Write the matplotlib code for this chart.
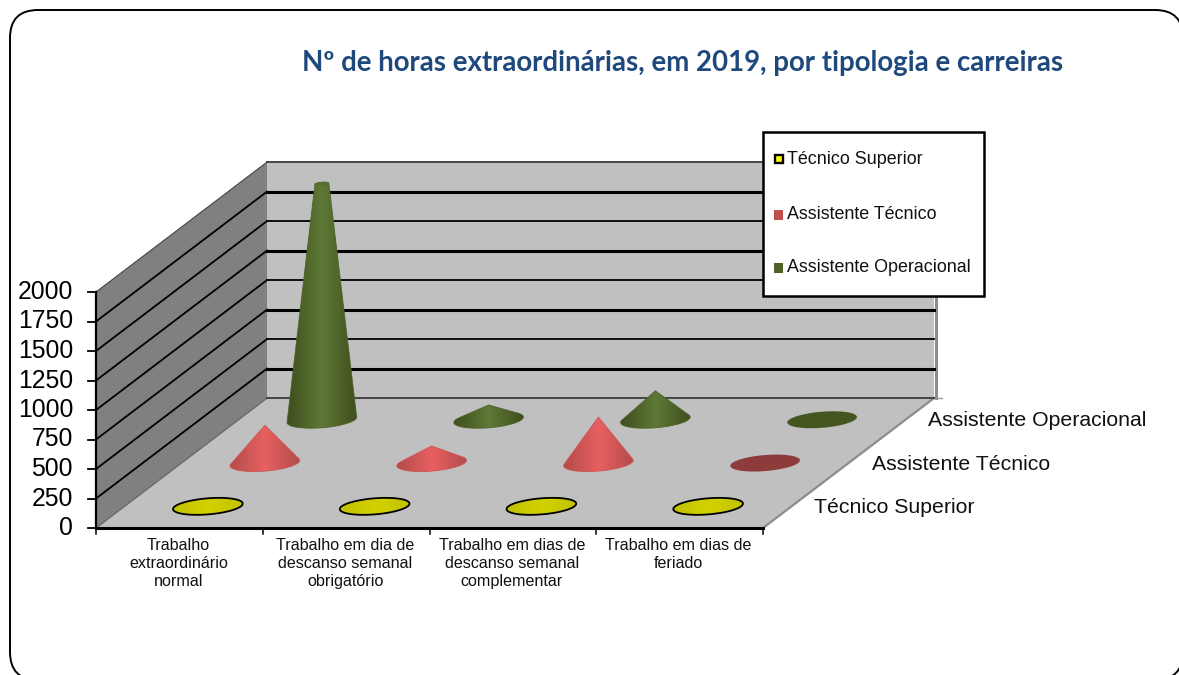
"""
Cone chart of overtime hours by type and career, drawn by hand on a pixel-sized axes
"""
import numpy as np
import matplotlib

matplotlib.use("Agg")
import matplotlib.pyplot as plt
from matplotlib.colors import LinearSegmentedColormap, to_rgb
from matplotlib.patches import FancyBboxPatch, Polygon, Rectangle

plt.rcParams["font.family"] = ["Liberation Sans", "DejaVu Sans"]

title = "Nº de horas extraordinárias, em 2019, por tipologia e carreiras"
categories = [
    "Trabalho\nextraordinário\nnormal",
    "Trabalho em dia de\ndescanso semanal\nobrigatório",
    "Trabalho em dias de\ndescanso semanal\ncomplementar",
    "Trabalho em dias de\nferiado",
]
series_names = ["Técnico Superior", "Assistente Técnico", "Assistente Operacional"]
tecnico_superior = [0, 0, 0, 0]
assistente_tecnico = [320, 145, 390, 0]
assistente_operacional = [2500, 125, 245, 0]
y_ticks = [0, 250, 500, 750, 1000, 1250, 1500, 1750, 2000]

# edge colour, middle colour, colour when the value is zero
series_colors = [
    ("#c2c200", "#d2d200", "#c8c800"),
    ("#b44c4c", "#e86060", "#8e3b3b"),
    ("#3f4e1e", "#5e7a36", "#44561f"),
]
legend_colors = ["#ffff00", "#c0504d", "#4f6228"]

# 3d box in pixels
X0, Y0 = 96, 528
CAT_W = 166.75
DEPTH_X, DEPTH_Y = 57, 43.3
PX_PER_UNIT = 236 / 2000
Y_MAX = y_ticks[-1]
N_CAT = len(categories)
N_SER = len(series_names)
RADIUS_X, RADIUS_DEPTH = 33, 0.196


def project(cat, depth, value=0):
    return (
        X0 + cat * CAT_W + depth * DEPTH_X,
        Y0 - depth * DEPTH_Y - value * PX_PER_UNIT,
    )


def circle(cat, depth, value=0, scale=1.0):
    # circle lying on the floor plane, sheared by the depth axis
    t = np.linspace(0, 2 * np.pi, 80, endpoint=False)
    cx, cy = project(cat, depth, value)
    x = cx + scale * (RADIUS_X * np.cos(t) + RADIUS_DEPTH * DEPTH_X * np.sin(t))
    y = cy - scale * RADIUS_DEPTH * DEPTH_Y * np.sin(t)
    return np.column_stack([x, y])


def hull(points):
    pts = sorted(set(map(tuple, np.round(points, 3))))

    def half(seq):
        out = []
        for p in seq:
            while len(out) > 1:
                a, b = out[-2], out[-1]
                if (b[0] - a[0]) * (p[1] - a[1]) - (b[1] - a[1]) * (p[0] - a[0]) > 0:
                    break
                out.pop()
            out.append(p)
        return out[:-1]

    return np.array(half(pts) + half(pts[::-1]))


def shaded(ax, outline, edge, mid, zorder):
    cmap = LinearSegmentedColormap.from_list("cone", [edge, mid, edge])
    x0, x1 = outline[:, 0].min(), outline[:, 0].max()
    y0, y1 = outline[:, 1].min(), outline[:, 1].max()
    im = ax.imshow(
        np.linspace(0, 1, 64).reshape(1, -1),
        cmap=cmap,
        extent=(x0, x1, y1, y0),
        aspect="auto",
        zorder=zorder,
        interpolation="bilinear",
    )
    clip = Polygon(outline, closed=True, transform=ax.transData)
    im.set_clip_path(clip)
    # image clipping is not antialiased, a thin outline hides the stairs
    soft = tuple((np.array(to_rgb(edge)) + np.array(to_rgb(mid))) / 2)
    ax.add_patch(Polygon(outline, facecolor="none", edgecolor=soft, lw=0.6, zorder=zorder))


fig = plt.figure(figsize=(11.79, 6.75), dpi=100)
ax = fig.add_axes([0, 0, 1, 1])
ax.set_xlim(0, 1179)
ax.set_ylim(675, 0)
ax.autoscale(False)
ax.axis("off")

# outer frame runs past the right and bottom of the image
ax.add_patch(
    FancyBboxPatch(
        (10, 10), 1173, 670,
        boxstyle="round,pad=0,rounding_size=28",
        facecolor="white", edgecolor="black", linewidth=1.4, zorder=0,
    )
)

ax.text(683, 63, title, family=["Lato", "DejaVu Sans"], fontweight="bold", fontsize=19.9,
        color="#1f497d", ha="center", va="center")

# walls and floor
floor = [project(0, 0), project(N_CAT, 0), project(N_CAT, N_SER), project(0, N_SER)]
left_wall = [project(0, 0), project(0, N_SER), project(0, N_SER, Y_MAX), project(0, 0, Y_MAX)]
back_wall = [project(0, N_SER), project(N_CAT, N_SER), project(N_CAT, N_SER, Y_MAX), project(0, N_SER, Y_MAX)]
ax.add_patch(Polygon(floor, facecolor="#c0c0c0", edgecolor="none", zorder=1))
ax.add_patch(Polygon(left_wall, facecolor="#808080", edgecolor="none", zorder=1))
ax.add_patch(Polygon(back_wall, facecolor="#c0c0c0", edgecolor="none", zorder=1))

# wall side edge and floor edges
bx, by = project(N_CAT, N_SER)
tx, ty = project(N_CAT, N_SER, Y_MAX)
ax.plot([bx + 1.5, tx + 1.5], [by, ty], color="#8c8c8c", lw=2.2, zorder=2)
ax.plot([bx, bx + 8], [by, by], color="#a0a0a0", lw=1, zorder=2)
fx, fy = project(N_CAT, 0)
ax.plot([fx, bx], [fy, by], color="#8c8c8c", lw=1.6, zorder=2)
lx, ly = project(0, 0)
ax.plot([lx, project(0, N_SER)[0]], [ly, project(0, N_SER)[1]], color="#6a6a6a", lw=1, zorder=2)

# gridlines on both walls, ticks and tick labels
for i, tick in enumerate(y_ticks):
    x_front, y_front = project(0, 0, tick)
    x_back, y_back = project(0, N_SER, tick)
    x_right, y_right = project(N_CAT, N_SER, tick)
    if tick > 0:
        ax.plot([x_front, x_back], [y_front, y_back], color="black" if tick < Y_MAX else "#444444",
                lw=1.3 if tick < Y_MAX else 0.8, zorder=2)
    ax.plot([x_back, x_right], [y_back, y_right],
            color="#3a3a3a" if tick in (0, Y_MAX) else "black",
            lw=2.2 if i % 2 == 1 else 1.3, zorder=2)
    ax.plot([x_front - 8, x_front], [y_front, y_front], color="black", lw=1.3, zorder=3)
    ax.text(73, y_front, str(tick), fontsize=17.8, ha="right", va="center", color="black")

# axes lines
ax.plot([X0, X0], [project(0, 0, Y_MAX)[1], Y0], color="black", lw=1.6, zorder=3)
ax.plot([X0, fx], [Y0, Y0], color="black", lw=2.2, zorder=3)
for c in range(N_CAT + 1):
    x, y = project(c, 0)
    ax.plot([x, x], [y, y + 6], color="black", lw=1.1, zorder=3)

# category labels and series labels
for c, label in enumerate(categories):
    ax.text(project(c + 0.5, 0)[0] - 1, 537.5, label, fontsize=11.6, ha="center", va="top",
            linespacing=1.28, color="#111111")
for s, name in enumerate(series_names):
    x, y = project(N_CAT, s + 0.5)
    ax.text(x + 23, y + 1, name, fontsize=15.3, ha="left", va="center", color="#111111")

# cones, back row first so the front ones sit on top
series_values = [tecnico_superior, assistente_tecnico, assistente_operacional]
for s in range(N_SER - 1, -1, -1):
    edge, mid, flat = series_colors[s]
    for c, value in enumerate(series_values[s]):
        depth = s + 0.5
        cat = c + 0.5
        z = 5 + (N_SER - s)
        if value == 0:
            outline = circle(cat, depth)
            if s == 0:
                shaded(ax, outline, edge, mid, z)
                ax.add_patch(Polygon(outline, facecolor="none", edgecolor="black", lw=1.3, zorder=z))
            else:
                ax.add_patch(Polygon(outline, facecolor=flat, edgecolor="none", zorder=z))
            continue
        height = min(value, Y_MAX)
        top_scale = 1 - height / value
        top = circle(cat, depth, height, top_scale)
        outline = hull(np.vstack([circle(cat, depth), top]))
        shaded(ax, outline, edge, mid, z)
        if top_scale > 0:
            # cone goes past the axis maximum, so its tip is cut off
            ax.add_patch(Polygon(top, facecolor="#55702f", edgecolor="none", zorder=z))

# legend box
ax.add_patch(Rectangle((763, 132), 221, 164, facecolor="white", edgecolor="black", lw=1.8, zorder=10))
legend_y = [159, 214.5, 268]
for name, color, y, s in zip(series_names, legend_colors, legend_y, range(N_SER)):
    if s == 0:
        ax.add_patch(Rectangle((775, y - 4), 8, 8, facecolor=color, edgecolor="black", lw=1.7, zorder=11))
    else:
        ax.add_patch(Rectangle((774, y - 5), 9, 10, facecolor=color, edgecolor="none", zorder=11))
    ax.text(787, y, name, fontsize=12.9, ha="left", va="center", color="#111111", zorder=11)

fig.savefig("out.png", dpi=100)
